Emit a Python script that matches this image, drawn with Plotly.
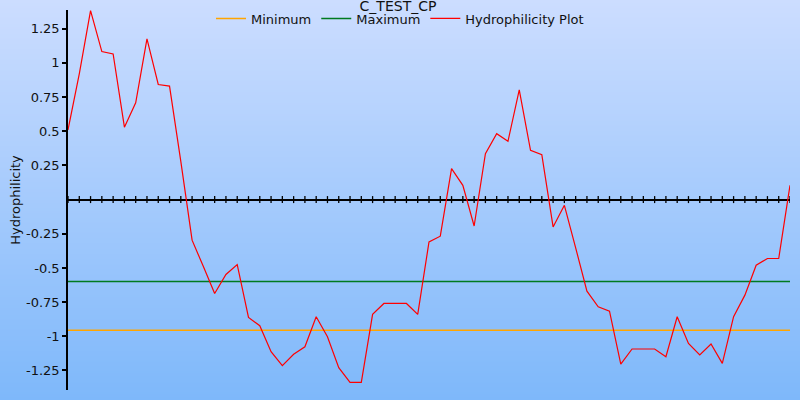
import base64
import struct
import zlib

import plotly.graph_objects as go

# ---------------- data ----------------
positions = list(range(1, 66))
hydrophilicity = [
    0.51, 0.92, 1.383, 1.083, 1.066, 0.53, 0.708, 1.176, 0.842, 0.83,
    0.28, -0.297, -0.49, -0.687, -0.548, -0.475, -0.862, -0.923, -1.113, -1.215,
    -1.132, -1.077, -0.857, -1.003, -1.23, -1.337, -1.337, -0.84, -0.76, -0.76,
    -0.76, -0.84, -0.31, -0.268, 0.226, 0.104, -0.193, 0.336, 0.482, 0.426,
    0.803, 0.36, 0.329, -0.2, -0.042, -0.353, -0.67, -0.784, -0.816, -1.203,
    -1.093, -1.093, -1.093, -1.15, -0.857, -1.052, -1.137, -1.057, -1.198, -0.857,
    -0.699, -0.48, -0.431, -0.431, 0.104,
]
minimum_level = -0.955
maximum_level = -0.60
ytick_values = [-1.25, -1.0, -0.75, -0.5, -0.25, 0.25, 0.5, 0.75, 1.0, 1.25]
ytick_labels = ["-1.25", "-1", "-0.75", "-0.5", "-0.25", "0.25", "0.5", "0.75", "1", "1.25"]

# ---------------- geometry ----------------
W, H = 800, 400
ML, MR, MT, MB = 68, 10, 10, 10
PW, PH = W - ML - MR, H - MT - MB
Y_RANGE = [-1.393, 1.387]


def gradient_png(top, bottom, height):
    raw = b""
    for r in range(height):
        t = r / (height - 1)
        px = bytes(int(round(top[k] + (bottom[k] - top[k]) * t)) for k in range(3))
        raw += b"\x00" + px

    def chunk(tag, data):
        c = tag + data
        return struct.pack(">I", len(data)) + c + struct.pack(">I", zlib.crc32(c) & 0xFFFFFFFF)

    png = b"\x89PNG\r\n\x1a\n"
    png += chunk(b"IHDR", struct.pack(">IIBBBBB", 1, height, 8, 2, 0, 0, 0))
    png += chunk(b"IDAT", zlib.compress(raw, 9))
    png += chunk(b"IEND", b"")
    return "data:image/png;base64," + base64.b64encode(png).decode()


bg_src = gradient_png((204, 221, 255), (126, 184, 250), H)

FONT = "DejaVu Sans"
TXT = "#111111"

fig = go.Figure()

fig.add_trace(go.Scatter(
    x=[positions[0], positions[-1]], y=[minimum_level, minimum_level],
    mode="lines", name="Minimum", line=dict(color="#ffa500", width=1.5),
    hoverinfo="skip",
))
fig.add_trace(go.Scatter(
    x=[positions[0], positions[-1]], y=[maximum_level, maximum_level],
    mode="lines", name="Maximum", line=dict(color="#007a1f", width=1.5),
    hoverinfo="skip",
))
# tick marks crossing the x-axis drawn at y = 0
fig.add_trace(go.Scatter(
    x=positions, y=[0] * len(positions), mode="markers", showlegend=False,
    marker=dict(symbol="line-ns", size=5, line=dict(color="black", width=1.3)),
    hoverinfo="skip",
))
fig.add_trace(go.Scatter(
    x=positions, y=hydrophilicity, mode="lines", name="Hydrophilicity Plot",
    line=dict(color="#ff0000", width=1.2),
))

fig.update_layout(
    template="none",
    width=W, height=H,
    margin=dict(l=ML, r=MR, t=MT, b=MB, pad=0, autoexpand=False),
    paper_bgcolor="rgba(0,0,0,0)",
    plot_bgcolor="rgba(0,0,0,0)",
    font=dict(family=FONT, size=13, color=TXT),
    title=dict(text="C_TEST_CP", x=398 / W, xref="container", xanchor="center",
               y=1 - 6.5 / H, yref="container", yanchor="middle",
               automargin=False,
               font=dict(family=FONT, size=14, color=TXT)),
    legend=dict(orientation="h", xref="container", x=0.5, xanchor="center",
                yref="container", y=1 - 18.5 / H, yanchor="middle",
                bgcolor="rgba(0,0,0,0)", itemwidth=30,
                font=dict(family=FONT, size=13, color=TXT)),
    showlegend=True,
    images=[dict(source=bg_src, xref="paper", yref="paper",
                 x=-ML / PW, y=1 + MT / PH, sizex=W / PW, sizey=H / PH,
                 xanchor="left", yanchor="top", sizing="stretch", layer="below")],
    xaxis=dict(range=[positions[0], positions[-1]], visible=False, showgrid=False,
               zeroline=False, automargin=False),
    yaxis=dict(range=Y_RANGE, showgrid=False, automargin=False,
               showline=True, linecolor="black", linewidth=1.5,
               zeroline=True, zerolinecolor="black", zerolinewidth=1.5,
               ticks="outside", ticklen=4, tickwidth=1.5, tickcolor="black",
               tickvals=ytick_values, ticktext=ytick_labels,
               tickfont=dict(family=FONT, size=13, color=TXT),
               title=dict(text="Hydrophilicity", standoff=2,
                          font=dict(family=FONT, size=13, color=TXT))),
    hovermode="closest",
)

fig.write_html(
    "out.html",
    config={"displayModeBar": False},
    post_script="document.body.style.margin='0';document.body.style.overflow='hidden';",
)
